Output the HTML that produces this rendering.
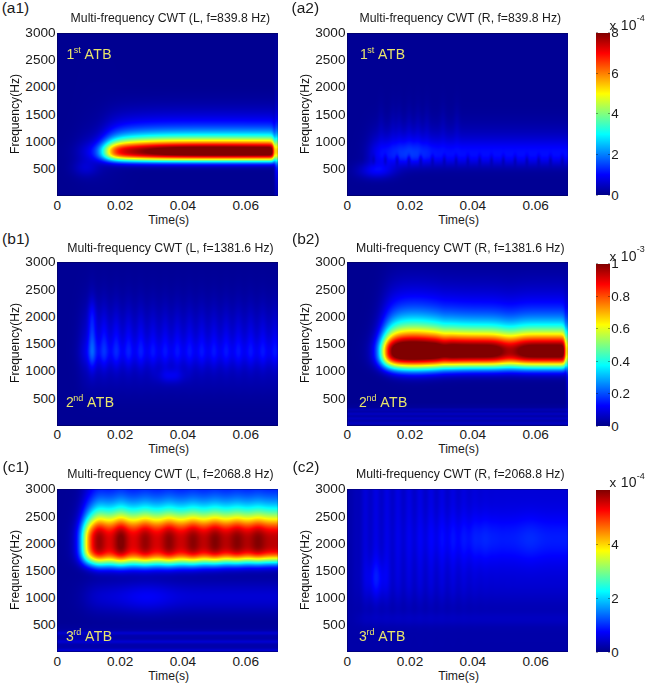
<!DOCTYPE html>
<html><head><meta charset="utf-8"><style>
html,body{margin:0;padding:0;background:#fff;}
body{width:646px;height:685px;position:relative;overflow:hidden;font-family:"Liberation Sans", sans-serif;}
.t{position:absolute;line-height:1;white-space:nowrap;color:#111;}
canvas{position:absolute;background:#00008f;display:block;}
.atb{color:#e8e46c;}
.ls{letter-spacing:0.45px;}
.sup{font-size:9px;vertical-align:top;position:relative;top:-1.3px;margin-left:-0.5px;}
.fr{position:absolute;box-sizing:border-box;border:1px solid rgba(0,0,50,0.35);border-right-color:rgba(0,0,50,0.15);}
.cb{position:absolute;background:linear-gradient(to top,#000088 0%,#0000ff 12.5%,#00ffff 37.5%,#ffff00 62.5%,#ff0000 87.5%,#800000 100%);}
.tk{position:absolute;width:2px;height:1px;background:rgba(0,0,0,0.35);}
.sup2{font-size:9px;vertical-align:top;position:relative;top:-3.6px;margin-left:0.3px;}
</style></head><body>
<canvas id="p00" width="221" height="163" style="left:57.30px;top:32.70px;width:220.80px;height:163.30px;background:linear-gradient(to right,rgb(0,0,145) 38px,rgba(0,0,145,0) 60px),linear-gradient(to bottom,rgb(0,0,145) 1px,rgb(0,0,145) 3px,rgb(0,0,145) 5px,rgb(0,0,145) 7px,rgb(0,0,145) 9px,rgb(0,0,145) 11px,rgb(0,0,145) 13px,rgb(0,0,145) 15px,rgb(0,0,145) 17px,rgb(0,0,145) 19px,rgb(0,0,145) 21px,rgb(0,0,145) 23px,rgb(0,0,145) 25px,rgb(0,0,145) 27px,rgb(0,0,145) 29px,rgb(0,0,145) 31px,rgb(0,0,145) 33px,rgb(0,0,145) 35px,rgb(0,0,145) 37px,rgb(0,0,145) 39px,rgb(0,0,145) 41px,rgb(0,0,145) 43px,rgb(0,0,145) 45px,rgb(0,0,145) 47px,rgb(0,0,146) 49px,rgb(0,0,146) 51px,rgb(0,0,146) 53px,rgb(0,0,147) 55px,rgb(0,0,148) 57px,rgb(0,0,150) 59px,rgb(0,0,152) 61px,rgb(0,0,154) 63px,rgb(0,0,157) 65px,rgb(0,0,161) 67px,rgb(0,0,165) 69px,rgb(0,0,170) 71px,rgb(0,0,176) 73px,rgb(0,0,183) 75px,rgb(0,0,191) 77px,rgb(0,0,200) 79px,rgb(0,0,211) 81px,rgb(0,0,223) 83px,rgb(0,0,238) 85px,rgb(0,0,254) 87px,rgb(0,18,255) 89px,rgb(0,41,255) 91px,rgb(0,69,255) 93px,rgb(0,101,255) 95px,rgb(0,141,255) 97px,rgb(0,189,255) 99px,rgb(0,248,255) 101px,rgb(65,255,189) 103px,rgb(153,255,102) 105px,rgb(254,253,0) 107px,rgb(255,138,0) 109px,rgb(255,16,0) 111px,rgb(160,0,0) 113px,rgb(128,0,0) 115px,rgb(128,0,0) 117px,rgb(128,0,0) 119px,rgb(128,0,0) 121px,rgb(227,0,0) 123px,rgb(255,167,0) 125px,rgb(120,255,134) 127px,rgb(0,175,255) 129px,rgb(0,30,255) 131px,rgb(0,0,202) 133px,rgb(0,0,164) 135px,rgb(0,0,150) 137px,rgb(0,0,146) 139px,rgb(0,0,145) 141px,rgb(0,0,145) 143px,rgb(0,0,145) 145px,rgb(0,0,145) 147px,rgb(0,0,145) 149px,rgb(0,0,145) 151px,rgb(0,0,145) 153px,rgb(0,0,145) 155px,rgb(0,0,145) 157px,rgb(0,0,145) 159px,rgb(0,0,145) 161px,rgb(0,0,145) 162px) 38px 0/183.8px 100% no-repeat,rgb(0,0,145);"></canvas>
<canvas id="p01" width="221" height="163" style="left:347.20px;top:32.70px;width:220.80px;height:163.30px;background:linear-gradient(to bottom,rgb(0,0,148) 1px,rgb(0,0,148) 3px,rgb(0,0,148) 5px,rgb(0,0,148) 7px,rgb(0,0,148) 9px,rgb(0,0,148) 11px,rgb(0,0,148) 13px,rgb(0,0,148) 15px,rgb(0,0,148) 17px,rgb(0,0,148) 19px,rgb(0,0,148) 21px,rgb(0,0,148) 23px,rgb(0,0,148) 25px,rgb(0,0,148) 27px,rgb(0,0,148) 29px,rgb(0,0,148) 31px,rgb(0,0,148) 33px,rgb(0,0,148) 35px,rgb(0,0,148) 37px,rgb(0,0,148) 39px,rgb(0,0,148) 41px,rgb(0,0,148) 43px,rgb(0,0,148) 45px,rgb(0,0,148) 47px,rgb(0,0,148) 49px,rgb(0,0,148) 51px,rgb(0,0,148) 53px,rgb(0,0,148) 55px,rgb(0,0,148) 57px,rgb(0,0,148) 59px,rgb(0,0,148) 61px,rgb(0,0,148) 63px,rgb(0,0,148) 65px,rgb(0,0,148) 67px,rgb(0,0,149) 69px,rgb(0,0,149) 71px,rgb(0,0,149) 73px,rgb(0,0,150) 75px,rgb(0,0,151) 77px,rgb(0,0,152) 79px,rgb(0,0,154) 81px,rgb(0,0,156) 83px,rgb(0,0,158) 85px,rgb(0,0,160) 87px,rgb(0,0,163) 89px,rgb(0,0,167) 91px,rgb(0,0,171) 93px,rgb(0,0,175) 95px,rgb(0,0,181) 97px,rgb(0,0,186) 99px,rgb(0,0,193) 101px,rgb(0,0,201) 103px,rgb(0,0,209) 105px,rgb(0,0,219) 107px,rgb(0,0,229) 109px,rgb(0,0,239) 111px,rgb(0,0,249) 113px,rgb(0,1,255) 115px,rgb(0,6,255) 117px,rgb(0,7,255) 119px,rgb(0,4,252) 121px,rgb(0,2,243) 123px,rgb(0,0,229) 125px,rgb(0,0,213) 127px,rgb(0,0,201) 129px,rgb(0,0,190) 131px,rgb(0,0,180) 133px,rgb(0,0,170) 135px,rgb(0,0,161) 137px,rgb(0,0,155) 139px,rgb(0,0,152) 141px,rgb(0,0,150) 143px,rgb(0,0,149) 145px,rgb(0,0,148) 147px,rgb(0,0,148) 149px,rgb(0,0,148) 151px,rgb(0,0,148) 153px,rgb(0,0,148) 155px,rgb(0,0,148) 157px,rgb(0,0,148) 159px,rgb(0,0,148) 161px,rgb(0,0,148) 162px);"></canvas>
<div class="cb" style="left:595.60px;top:32.50px;width:14.10px;height:162.70px"></div>
<canvas id="p10" width="221" height="164" style="left:57.30px;top:262.00px;width:220.80px;height:163.50px;background:linear-gradient(to bottom,rgb(0,0,149) 1px,rgb(0,0,149) 3px,rgb(0,0,149) 5px,rgb(0,0,150) 7px,rgb(0,0,150) 9px,rgb(0,0,150) 11px,rgb(0,0,151) 13px,rgb(0,0,152) 15px,rgb(0,0,153) 17px,rgb(0,0,154) 19px,rgb(0,0,154) 21px,rgb(0,0,155) 23px,rgb(0,0,156) 25px,rgb(0,0,158) 27px,rgb(0,0,160) 29px,rgb(0,0,161) 31px,rgb(0,0,163) 33px,rgb(0,0,165) 35px,rgb(0,0,167) 37px,rgb(0,0,169) 39px,rgb(0,0,172) 41px,rgb(0,0,174) 43px,rgb(0,0,177) 45px,rgb(0,0,180) 47px,rgb(0,0,183) 49px,rgb(0,0,186) 51px,rgb(0,0,190) 53px,rgb(0,0,193) 55px,rgb(0,0,197) 57px,rgb(0,0,200) 59px,rgb(0,0,204) 61px,rgb(0,0,207) 63px,rgb(0,0,210) 65px,rgb(0,0,214) 67px,rgb(0,0,218) 69px,rgb(0,0,222) 71px,rgb(0,0,226) 73px,rgb(0,0,231) 75px,rgb(0,0,235) 77px,rgb(0,0,241) 79px,rgb(0,2,243) 81px,rgb(0,4,245) 83px,rgb(0,6,247) 85px,rgb(0,8,249) 87px,rgb(0,8,249) 89px,rgb(0,7,249) 91px,rgb(0,5,247) 93px,rgb(0,2,244) 95px,rgb(0,0,239) 97px,rgb(0,0,230) 99px,rgb(0,0,222) 101px,rgb(0,0,215) 103px,rgb(0,0,208) 105px,rgb(0,0,204) 107px,rgb(0,0,201) 109px,rgb(0,0,199) 111px,rgb(0,0,196) 113px,rgb(0,0,192) 115px,rgb(0,0,187) 117px,rgb(0,0,181) 119px,rgb(0,0,177) 121px,rgb(0,0,172) 123px,rgb(0,0,169) 125px,rgb(0,0,166) 127px,rgb(0,0,163) 129px,rgb(0,0,161) 131px,rgb(0,0,159) 133px,rgb(0,0,157) 135px,rgb(0,0,156) 137px,rgb(0,0,154) 139px,rgb(0,0,153) 141px,rgb(0,0,152) 143px,rgb(0,0,151) 145px,rgb(0,0,150) 147px,rgb(0,0,150) 149px,rgb(0,0,149) 151px,rgb(0,0,149) 153px,rgb(0,0,148) 155px,rgb(0,0,148) 157px,rgb(0,0,148) 159px,rgb(0,0,148) 161px,rgb(0,0,148) 162px);"></canvas>
<canvas id="p11" width="221" height="164" style="left:347.20px;top:262.00px;width:220.80px;height:163.50px;background:linear-gradient(to right,rgb(0,0,147) 24px,rgba(0,0,147,0) 46px),linear-gradient(to bottom,rgb(0,0,155) 1px,rgb(0,0,157) 3px,rgb(0,0,159) 5px,rgb(0,0,162) 7px,rgb(0,0,165) 9px,rgb(0,0,168) 11px,rgb(0,0,171) 13px,rgb(0,0,175) 15px,rgb(0,0,180) 17px,rgb(0,0,184) 19px,rgb(0,0,190) 21px,rgb(0,0,195) 23px,rgb(0,0,201) 25px,rgb(0,0,208) 27px,rgb(0,0,216) 29px,rgb(0,0,224) 31px,rgb(0,0,233) 33px,rgb(0,1,241) 35px,rgb(0,5,247) 37px,rgb(0,10,254) 39px,rgb(0,22,255) 41px,rgb(0,36,255) 43px,rgb(0,52,255) 45px,rgb(0,69,255) 47px,rgb(0,88,255) 49px,rgb(0,110,255) 51px,rgb(0,134,255) 53px,rgb(0,161,255) 55px,rgb(0,190,255) 57px,rgb(6,219,248) 59px,rgb(20,243,234) 61px,rgb(51,255,203) 63px,rgb(99,255,155) 65px,rgb(152,255,102) 67px,rgb(205,247,50) 69px,rgb(247,225,7) 71px,rgb(255,164,0) 73px,rgb(255,92,0) 75px,rgb(240,34,0) 77px,rgb(205,0,0) 79px,rgb(156,0,0) 81px,rgb(128,0,0) 83px,rgb(128,0,0) 85px,rgb(128,0,0) 87px,rgb(128,0,0) 89px,rgb(128,0,0) 91px,rgb(128,0,0) 93px,rgb(141,0,0) 95px,rgb(201,0,0) 97px,rgb(251,55,0) 99px,rgb(255,175,0) 101px,rgb(196,249,58) 103px,rgb(71,255,183) 105px,rgb(4,203,250) 107px,rgb(0,107,255) 109px,rgb(0,30,255) 111px,rgb(0,2,228) 113px,rgb(0,0,193) 115px,rgb(0,0,170) 117px,rgb(0,0,157) 119px,rgb(0,0,150) 121px,rgb(0,0,147) 123px,rgb(0,0,145) 125px,rgb(0,0,145) 127px,rgb(0,0,145) 129px,rgb(0,0,145) 131px,rgb(0,0,145) 133px,rgb(0,0,145) 135px,rgb(0,0,145) 137px,rgb(0,0,145) 139px,rgb(0,0,147) 141px,rgb(0,0,151) 143px,rgb(0,0,156) 145px,rgb(0,0,178) 147px,rgb(0,0,168) 149px,rgb(0,0,188) 151px,rgb(0,0,174) 153px,rgb(0,0,183) 155px,rgb(0,0,183) 157px,rgb(0,0,175) 159px,rgb(0,0,189) 161px,rgb(0,0,189) 162px) 24px 0/197.8px 100% no-repeat,rgb(0,0,147);"></canvas>
<div class="cb" style="left:595.60px;top:263.70px;width:14.10px;height:162.40px"></div>
<canvas id="p20" width="221" height="163" style="left:57.30px;top:489.00px;width:220.80px;height:163.00px;background:linear-gradient(to right,rgb(0,0,154) 14px,rgba(0,0,154,0) 36px),linear-gradient(to bottom,rgb(0,47,255) 1px,rgb(0,62,255) 3px,rgb(0,78,255) 5px,rgb(0,97,255) 7px,rgb(0,118,255) 9px,rgb(0,141,255) 11px,rgb(0,168,255) 13px,rgb(0,198,255) 15px,rgb(0,231,255) 17px,rgb(14,253,241) 19px,rgb(53,255,202) 21px,rgb(97,255,158) 23px,rgb(144,255,110) 25px,rgb(195,255,59) 27px,rgb(241,248,14) 29px,rgb(255,208,0) 31px,rgb(255,155,0) 33px,rgb(255,104,0) 35px,rgb(255,57,0) 37px,rgb(247,24,0) 39px,rgb(230,7,0) 41px,rgb(211,0,0) 43px,rgb(192,0,0) 45px,rgb(181,0,0) 47px,rgb(175,0,0) 49px,rgb(173,0,0) 51px,rgb(173,0,0) 53px,rgb(174,0,0) 55px,rgb(178,0,0) 57px,rgb(189,0,0) 59px,rgb(213,0,0) 61px,rgb(243,7,0) 63px,rgb(255,53,0) 65px,rgb(255,129,0) 67px,rgb(255,225,0) 69px,rgb(177,255,78) 71px,rgb(63,255,192) 73px,rgb(0,208,255) 75px,rgb(0,112,255) 77px,rgb(0,34,255) 79px,rgb(0,2,231) 81px,rgb(0,0,198) 83px,rgb(0,0,178) 85px,rgb(0,0,170) 87px,rgb(0,0,170) 89px,rgb(0,0,174) 91px,rgb(0,0,180) 93px,rgb(0,0,187) 95px,rgb(0,0,195) 97px,rgb(0,0,202) 99px,rgb(0,0,209) 101px,rgb(0,0,215) 103px,rgb(0,0,220) 105px,rgb(0,0,221) 107px,rgb(0,0,221) 109px,rgb(0,0,218) 111px,rgb(0,0,213) 113px,rgb(0,0,206) 115px,rgb(0,0,199) 117px,rgb(0,0,191) 119px,rgb(0,0,183) 121px,rgb(0,0,176) 123px,rgb(0,0,170) 125px,rgb(0,0,165) 127px,rgb(0,0,160) 129px,rgb(0,0,157) 131px,rgb(0,0,155) 133px,rgb(0,0,155) 135px,rgb(0,0,156) 137px,rgb(0,0,159) 139px,rgb(0,0,169) 141px,rgb(0,0,199) 143px,rgb(0,0,189) 145px,rgb(0,0,171) 147px,rgb(0,0,171) 149px,rgb(0,0,195) 151px,rgb(0,0,200) 153px,rgb(0,0,173) 155px,rgb(0,0,170) 157px,rgb(0,0,183) 159px,rgb(0,0,206) 161px,rgb(0,0,206) 162px) 14px 0/207.8px 100% no-repeat,rgb(0,0,154);"></canvas>
<canvas id="p21" width="221" height="163" style="left:347.20px;top:489.00px;width:220.80px;height:163.00px;background:linear-gradient(to bottom,rgb(0,0,215) 1px,rgb(0,0,216) 3px,rgb(0,0,216) 5px,rgb(0,0,216) 7px,rgb(0,0,217) 9px,rgb(0,0,218) 11px,rgb(0,0,219) 13px,rgb(0,0,220) 15px,rgb(0,0,222) 17px,rgb(0,0,223) 19px,rgb(0,0,225) 21px,rgb(0,0,228) 23px,rgb(0,0,230) 25px,rgb(0,0,233) 27px,rgb(0,0,236) 29px,rgb(0,0,239) 31px,rgb(0,0,242) 33px,rgb(0,2,243) 35px,rgb(0,4,244) 37px,rgb(0,6,245) 39px,rgb(0,8,245) 41px,rgb(0,10,245) 43px,rgb(0,11,246) 45px,rgb(0,12,246) 47px,rgb(0,12,246) 49px,rgb(0,12,246) 51px,rgb(0,12,246) 53px,rgb(0,10,246) 55px,rgb(0,9,245) 57px,rgb(0,7,245) 59px,rgb(0,5,245) 61px,rgb(0,3,244) 63px,rgb(0,1,243) 65px,rgb(0,0,241) 67px,rgb(0,0,238) 69px,rgb(0,0,235) 71px,rgb(0,0,233) 73px,rgb(0,0,230) 75px,rgb(0,0,228) 77px,rgb(0,0,226) 79px,rgb(0,0,224) 81px,rgb(0,0,223) 83px,rgb(0,0,221) 85px,rgb(0,0,219) 87px,rgb(0,0,218) 89px,rgb(0,0,216) 91px,rgb(0,0,215) 93px,rgb(0,0,213) 95px,rgb(0,0,211) 97px,rgb(0,0,208) 99px,rgb(0,0,206) 101px,rgb(0,0,203) 103px,rgb(0,0,200) 105px,rgb(0,0,197) 107px,rgb(0,0,193) 109px,rgb(0,0,190) 111px,rgb(0,0,187) 113px,rgb(0,0,185) 115px,rgb(0,0,183) 117px,rgb(0,0,182) 119px,rgb(0,0,182) 121px,rgb(0,0,184) 123px,rgb(0,0,188) 125px,rgb(0,0,191) 127px,rgb(0,0,192) 129px,rgb(0,0,190) 131px,rgb(0,0,186) 133px,rgb(0,0,181) 135px,rgb(0,0,176) 137px,rgb(0,0,173) 139px,rgb(0,0,170) 141px,rgb(10,10,166) 143px,rgb(0,0,169) 145px,rgb(0,0,169) 147px,rgb(0,0,169) 149px,rgb(20,19,163) 151px,rgb(0,0,168) 153px,rgb(0,0,168) 155px,rgb(0,0,168) 157px,rgb(0,0,168) 159px,rgb(0,0,168) 161px,rgb(0,0,168) 162px);"></canvas>
<div class="cb" style="left:595.60px;top:489.80px;width:14.10px;height:162.30px"></div>
<div class="t" style="left:1.70px;top:-0.12px;font-size:15.5px;color:#1a1a1a;">(a1)</div>
<div class="t" style="left:-29.60px;width:400px;text-align:center;top:12.43px;font-size:12.25px;color:#1a1a1a;">Multi-frequency CWT (L, f=839.8 Hz)</div>
<div class="t" style="right:590.40px;text-align:right;top:26.04px;font-size:13.6px;color:#1a1a1a;">3000</div>
<div class="t" style="right:590.40px;text-align:right;top:53.25px;font-size:13.6px;color:#1a1a1a;">2500</div>
<div class="t" style="right:590.40px;text-align:right;top:80.47px;font-size:13.6px;color:#1a1a1a;">2000</div>
<div class="t" style="right:590.40px;text-align:right;top:107.69px;font-size:13.6px;color:#1a1a1a;">1500</div>
<div class="t" style="right:590.40px;text-align:right;top:134.90px;font-size:13.6px;color:#1a1a1a;">1000</div>
<div class="t" style="right:590.40px;text-align:right;top:162.12px;font-size:13.6px;color:#1a1a1a;">500</div>
<div class="t" style="left:-142.70px;width:400px;text-align:center;top:198.79px;font-size:13.6px;color:#1a1a1a;">0</div>
<div class="t" style="left:-79.88px;width:400px;text-align:center;top:198.79px;font-size:13.6px;color:#1a1a1a;">0.02</div>
<div class="t" style="left:-17.07px;width:400px;text-align:center;top:198.79px;font-size:13.6px;color:#1a1a1a;">0.04</div>
<div class="t" style="left:45.75px;width:400px;text-align:center;top:198.79px;font-size:13.6px;color:#1a1a1a;">0.06</div>
<div class="t" style="left:-31.30px;width:400px;text-align:center;top:213.97px;font-size:12.2px;color:#1a1a1a;">Time(s)</div>
<div class="t" style="left:9.06px;top:113.65px;font-size:12.1px;width:0;height:0;"><div style="position:absolute;left:0;top:0;transform:translate(0,0) rotate(-90deg);transform-origin:0 0;white-space:nowrap;"><div style="transform:translate(-50%,0)">Frequency(Hz)</div></div></div>
<div class="t atb" style="left:66.40px;top:46.85px;font-size:14px;">1<span class="sup">st</span> <span class="ls">ATB</span></div>
<div class="fr" style="left:57.30px;top:32.70px;width:220.80px;height:163.30px"></div>
<div class="t" style="left:291.50px;top:-0.12px;font-size:15.5px;color:#1a1a1a;">(a2)</div>
<div class="t" style="left:260.30px;width:400px;text-align:center;top:12.43px;font-size:12.25px;color:#1a1a1a;">Multi-frequency CWT (R, f=839.8 Hz)</div>
<div class="t" style="right:300.50px;text-align:right;top:26.04px;font-size:13.6px;color:#1a1a1a;">3000</div>
<div class="t" style="right:300.50px;text-align:right;top:53.25px;font-size:13.6px;color:#1a1a1a;">2500</div>
<div class="t" style="right:300.50px;text-align:right;top:80.47px;font-size:13.6px;color:#1a1a1a;">2000</div>
<div class="t" style="right:300.50px;text-align:right;top:107.69px;font-size:13.6px;color:#1a1a1a;">1500</div>
<div class="t" style="right:300.50px;text-align:right;top:134.90px;font-size:13.6px;color:#1a1a1a;">1000</div>
<div class="t" style="right:300.50px;text-align:right;top:162.12px;font-size:13.6px;color:#1a1a1a;">500</div>
<div class="t" style="left:147.20px;width:400px;text-align:center;top:198.79px;font-size:13.6px;color:#1a1a1a;">0</div>
<div class="t" style="left:210.02px;width:400px;text-align:center;top:198.79px;font-size:13.6px;color:#1a1a1a;">0.02</div>
<div class="t" style="left:272.83px;width:400px;text-align:center;top:198.79px;font-size:13.6px;color:#1a1a1a;">0.04</div>
<div class="t" style="left:335.65px;width:400px;text-align:center;top:198.79px;font-size:13.6px;color:#1a1a1a;">0.06</div>
<div class="t" style="left:258.60px;width:400px;text-align:center;top:213.97px;font-size:12.2px;color:#1a1a1a;">Time(s)</div>
<div class="t" style="left:298.96px;top:113.65px;font-size:12.1px;width:0;height:0;"><div style="position:absolute;left:0;top:0;transform:translate(0,0) rotate(-90deg);transform-origin:0 0;white-space:nowrap;"><div style="transform:translate(-50%,0)">Frequency(Hz)</div></div></div>
<div class="t atb" style="left:359.90px;top:46.85px;font-size:14px;">1<span class="sup">st</span> <span class="ls">ATB</span></div>
<div class="fr" style="left:347.20px;top:32.70px;width:220.80px;height:163.30px"></div>
<div class="t" style="left:611.30px;top:188.61px;font-size:13.4px;color:#1a1a1a;">0</div>
<div class="tk" style="left:595.60px;top:194.70px"></div><div class="tk" style="left:607.70px;top:194.70px"></div>
<div class="t" style="left:611.30px;top:147.93px;font-size:13.4px;color:#1a1a1a;">2</div>
<div class="tk" style="left:595.60px;top:154.02px"></div><div class="tk" style="left:607.70px;top:154.02px"></div>
<div class="t" style="left:611.30px;top:107.26px;font-size:13.4px;color:#1a1a1a;">4</div>
<div class="tk" style="left:595.60px;top:113.35px"></div><div class="tk" style="left:607.70px;top:113.35px"></div>
<div class="t" style="left:611.30px;top:66.58px;font-size:13.4px;color:#1a1a1a;">6</div>
<div class="tk" style="left:595.60px;top:72.67px"></div><div class="tk" style="left:607.70px;top:72.67px"></div>
<div class="t" style="left:611.30px;top:25.91px;font-size:13.4px;color:#1a1a1a;">8</div>
<div class="tk" style="left:595.60px;top:32.00px"></div><div class="tk" style="left:607.70px;top:32.00px"></div>
<div class="t" style="left:609.40px;top:17.75px;font-size:14px;color:#1a1a1a;"><span style="font-size:13.4px;margin-right:0.9px">x</span> 10<span class="sup2">-4</span></div>
<div class="t" style="left:2.10px;top:231.08px;font-size:15.5px;color:#1a1a1a;">(b1)</div>
<div class="t" style="left:-29.60px;width:400px;text-align:center;top:242.23px;font-size:12.25px;color:#1a1a1a;">Multi-frequency CWT (L, f=1381.6 Hz)</div>
<div class="t" style="right:590.40px;text-align:right;top:255.34px;font-size:13.6px;color:#1a1a1a;">3000</div>
<div class="t" style="right:590.40px;text-align:right;top:282.59px;font-size:13.6px;color:#1a1a1a;">2500</div>
<div class="t" style="right:590.40px;text-align:right;top:309.84px;font-size:13.6px;color:#1a1a1a;">2000</div>
<div class="t" style="right:590.40px;text-align:right;top:337.09px;font-size:13.6px;color:#1a1a1a;">1500</div>
<div class="t" style="right:590.40px;text-align:right;top:364.34px;font-size:13.6px;color:#1a1a1a;">1000</div>
<div class="t" style="right:590.40px;text-align:right;top:391.59px;font-size:13.6px;color:#1a1a1a;">500</div>
<div class="t" style="left:-142.70px;width:400px;text-align:center;top:428.29px;font-size:13.6px;color:#1a1a1a;">0</div>
<div class="t" style="left:-79.88px;width:400px;text-align:center;top:428.29px;font-size:13.6px;color:#1a1a1a;">0.02</div>
<div class="t" style="left:-17.07px;width:400px;text-align:center;top:428.29px;font-size:13.6px;color:#1a1a1a;">0.04</div>
<div class="t" style="left:45.75px;width:400px;text-align:center;top:428.29px;font-size:13.6px;color:#1a1a1a;">0.06</div>
<div class="t" style="left:-31.30px;width:400px;text-align:center;top:443.47px;font-size:12.2px;color:#1a1a1a;">Time(s)</div>
<div class="t" style="left:9.06px;top:343.05px;font-size:12.1px;width:0;height:0;"><div style="position:absolute;left:0;top:0;transform:translate(0,0) rotate(-90deg);transform-origin:0 0;white-space:nowrap;"><div style="transform:translate(-50%,0)">Frequency(Hz)</div></div></div>
<div class="t atb" style="left:65.90px;top:394.95px;font-size:14px;">2<span class="sup">nd</span> <span class="ls">ATB</span></div>
<div class="fr" style="left:57.30px;top:262.00px;width:220.80px;height:163.50px"></div>
<div class="t" style="left:292.00px;top:231.08px;font-size:15.5px;color:#1a1a1a;">(b2)</div>
<div class="t" style="left:260.30px;width:400px;text-align:center;top:242.23px;font-size:12.25px;color:#1a1a1a;">Multi-frequency CWT (R, f=1381.6 Hz)</div>
<div class="t" style="right:300.50px;text-align:right;top:255.34px;font-size:13.6px;color:#1a1a1a;">3000</div>
<div class="t" style="right:300.50px;text-align:right;top:282.59px;font-size:13.6px;color:#1a1a1a;">2500</div>
<div class="t" style="right:300.50px;text-align:right;top:309.84px;font-size:13.6px;color:#1a1a1a;">2000</div>
<div class="t" style="right:300.50px;text-align:right;top:337.09px;font-size:13.6px;color:#1a1a1a;">1500</div>
<div class="t" style="right:300.50px;text-align:right;top:364.34px;font-size:13.6px;color:#1a1a1a;">1000</div>
<div class="t" style="right:300.50px;text-align:right;top:391.59px;font-size:13.6px;color:#1a1a1a;">500</div>
<div class="t" style="left:147.20px;width:400px;text-align:center;top:428.29px;font-size:13.6px;color:#1a1a1a;">0</div>
<div class="t" style="left:210.02px;width:400px;text-align:center;top:428.29px;font-size:13.6px;color:#1a1a1a;">0.02</div>
<div class="t" style="left:272.83px;width:400px;text-align:center;top:428.29px;font-size:13.6px;color:#1a1a1a;">0.04</div>
<div class="t" style="left:335.65px;width:400px;text-align:center;top:428.29px;font-size:13.6px;color:#1a1a1a;">0.06</div>
<div class="t" style="left:258.60px;width:400px;text-align:center;top:443.47px;font-size:12.2px;color:#1a1a1a;">Time(s)</div>
<div class="t" style="left:298.96px;top:343.05px;font-size:12.1px;width:0;height:0;"><div style="position:absolute;left:0;top:0;transform:translate(0,0) rotate(-90deg);transform-origin:0 0;white-space:nowrap;"><div style="transform:translate(-50%,0)">Frequency(Hz)</div></div></div>
<div class="t atb" style="left:359.10px;top:394.95px;font-size:14px;">2<span class="sup">nd</span> <span class="ls">ATB</span></div>
<div class="fr" style="left:347.20px;top:262.00px;width:220.80px;height:163.50px"></div>
<div class="t" style="left:611.30px;top:419.51px;font-size:13.4px;color:#1a1a1a;">0</div>
<div class="tk" style="left:595.60px;top:425.60px"></div><div class="tk" style="left:607.70px;top:425.60px"></div>
<div class="t" style="left:611.30px;top:387.03px;font-size:13.4px;color:#1a1a1a;">0.2</div>
<div class="tk" style="left:595.60px;top:393.12px"></div><div class="tk" style="left:607.70px;top:393.12px"></div>
<div class="t" style="left:611.30px;top:354.55px;font-size:13.4px;color:#1a1a1a;">0.4</div>
<div class="tk" style="left:595.60px;top:360.64px"></div><div class="tk" style="left:607.70px;top:360.64px"></div>
<div class="t" style="left:611.30px;top:322.07px;font-size:13.4px;color:#1a1a1a;">0.6</div>
<div class="tk" style="left:595.60px;top:328.16px"></div><div class="tk" style="left:607.70px;top:328.16px"></div>
<div class="t" style="left:611.30px;top:289.59px;font-size:13.4px;color:#1a1a1a;">0.8</div>
<div class="tk" style="left:595.60px;top:295.68px"></div><div class="tk" style="left:607.70px;top:295.68px"></div>
<div class="t" style="left:611.30px;top:257.11px;font-size:13.4px;color:#1a1a1a;">1</div>
<div class="tk" style="left:595.60px;top:263.20px"></div><div class="tk" style="left:607.70px;top:263.20px"></div>
<div class="t" style="left:609.40px;top:248.75px;font-size:14px;color:#1a1a1a;"><span style="font-size:13.4px;margin-right:0.9px">x</span> 10<span class="sup2">-3</span></div>
<div class="t" style="left:2.50px;top:458.68px;font-size:15.5px;color:#1a1a1a;">(c1)</div>
<div class="t" style="left:-29.60px;width:400px;text-align:center;top:468.03px;font-size:12.25px;color:#1a1a1a;">Multi-frequency CWT (L, f=2068.8 Hz)</div>
<div class="t" style="right:590.40px;text-align:right;top:482.34px;font-size:13.6px;color:#1a1a1a;">3000</div>
<div class="t" style="right:590.40px;text-align:right;top:509.50px;font-size:13.6px;color:#1a1a1a;">2500</div>
<div class="t" style="right:590.40px;text-align:right;top:536.67px;font-size:13.6px;color:#1a1a1a;">2000</div>
<div class="t" style="right:590.40px;text-align:right;top:563.84px;font-size:13.6px;color:#1a1a1a;">1500</div>
<div class="t" style="right:590.40px;text-align:right;top:591.00px;font-size:13.6px;color:#1a1a1a;">1000</div>
<div class="t" style="right:590.40px;text-align:right;top:618.17px;font-size:13.6px;color:#1a1a1a;">500</div>
<div class="t" style="left:-142.70px;width:400px;text-align:center;top:654.79px;font-size:13.6px;color:#1a1a1a;">0</div>
<div class="t" style="left:-79.88px;width:400px;text-align:center;top:654.79px;font-size:13.6px;color:#1a1a1a;">0.02</div>
<div class="t" style="left:-17.07px;width:400px;text-align:center;top:654.79px;font-size:13.6px;color:#1a1a1a;">0.04</div>
<div class="t" style="left:45.75px;width:400px;text-align:center;top:654.79px;font-size:13.6px;color:#1a1a1a;">0.06</div>
<div class="t" style="left:-31.30px;width:400px;text-align:center;top:669.97px;font-size:12.2px;color:#1a1a1a;">Time(s)</div>
<div class="t" style="left:9.06px;top:569.80px;font-size:12.1px;width:0;height:0;"><div style="position:absolute;left:0;top:0;transform:translate(0,0) rotate(-90deg);transform-origin:0 0;white-space:nowrap;"><div style="transform:translate(-50%,0)">Frequency(Hz)</div></div></div>
<div class="t atb" style="left:65.90px;top:629.45px;font-size:14px;">3<span class="sup">rd</span> <span class="ls">ATB</span></div>
<div class="fr" style="left:57.30px;top:489.00px;width:220.80px;height:163.00px"></div>
<div class="t" style="left:292.60px;top:458.68px;font-size:15.5px;color:#1a1a1a;">(c2)</div>
<div class="t" style="left:260.30px;width:400px;text-align:center;top:468.03px;font-size:12.25px;color:#1a1a1a;">Multi-frequency CWT (R, f=2068.8 Hz)</div>
<div class="t" style="right:300.50px;text-align:right;top:482.34px;font-size:13.6px;color:#1a1a1a;">3000</div>
<div class="t" style="right:300.50px;text-align:right;top:509.50px;font-size:13.6px;color:#1a1a1a;">2500</div>
<div class="t" style="right:300.50px;text-align:right;top:536.67px;font-size:13.6px;color:#1a1a1a;">2000</div>
<div class="t" style="right:300.50px;text-align:right;top:563.84px;font-size:13.6px;color:#1a1a1a;">1500</div>
<div class="t" style="right:300.50px;text-align:right;top:591.00px;font-size:13.6px;color:#1a1a1a;">1000</div>
<div class="t" style="right:300.50px;text-align:right;top:618.17px;font-size:13.6px;color:#1a1a1a;">500</div>
<div class="t" style="left:147.20px;width:400px;text-align:center;top:654.79px;font-size:13.6px;color:#1a1a1a;">0</div>
<div class="t" style="left:210.02px;width:400px;text-align:center;top:654.79px;font-size:13.6px;color:#1a1a1a;">0.02</div>
<div class="t" style="left:272.83px;width:400px;text-align:center;top:654.79px;font-size:13.6px;color:#1a1a1a;">0.04</div>
<div class="t" style="left:335.65px;width:400px;text-align:center;top:654.79px;font-size:13.6px;color:#1a1a1a;">0.06</div>
<div class="t" style="left:258.60px;width:400px;text-align:center;top:669.97px;font-size:12.2px;color:#1a1a1a;">Time(s)</div>
<div class="t" style="left:298.96px;top:569.80px;font-size:12.1px;width:0;height:0;"><div style="position:absolute;left:0;top:0;transform:translate(0,0) rotate(-90deg);transform-origin:0 0;white-space:nowrap;"><div style="transform:translate(-50%,0)">Frequency(Hz)</div></div></div>
<div class="t atb" style="left:359.10px;top:629.45px;font-size:14px;">3<span class="sup">rd</span> <span class="ls">ATB</span></div>
<div class="fr" style="left:347.20px;top:489.00px;width:220.80px;height:163.00px"></div>
<div class="t" style="left:611.30px;top:645.51px;font-size:13.4px;color:#1a1a1a;">0</div>
<div class="tk" style="left:595.60px;top:651.60px"></div><div class="tk" style="left:607.70px;top:651.60px"></div>
<div class="t" style="left:611.30px;top:591.68px;font-size:13.4px;color:#1a1a1a;">2</div>
<div class="tk" style="left:595.60px;top:597.77px"></div><div class="tk" style="left:607.70px;top:597.77px"></div>
<div class="t" style="left:611.30px;top:537.85px;font-size:13.4px;color:#1a1a1a;">4</div>
<div class="tk" style="left:595.60px;top:543.94px"></div><div class="tk" style="left:607.70px;top:543.94px"></div>
<div class="t" style="left:609.40px;top:475.35px;font-size:14px;color:#1a1a1a;"><span style="font-size:13.4px;margin-right:0.9px">x</span> 10<span class="sup2">-4</span></div>
<script>
(function(){
function cl(v){return v<0?0:(v>1?1:v);}
function jet(v){v=cl(v);return [cl(1.5-Math.abs(4*v-3))*255,cl(1.5-Math.abs(4*v-2))*255,cl(1.5-Math.abs(4*v-1))*255];}
function sig(x){return 1/(1+Math.exp(-x));}
function G(x,s){return Math.exp(-x*x/(2*s*s));}
function L(x,w){return 1/(1+(x/w)*(x/w));}
function P(d,wu,qu,al,pl){return d<0?1/(1+Math.pow(-d/wu,qu)):Math.exp(-Math.pow(d/al,pl));}
function paint(id,fn){
 var c=document.getElementById(id);if(!c||!c.getContext)return;
 var W=c.width,H=c.height,ctx=c.getContext('2d'),im=ctx.createImageData(W,H),d=im.data;
 for(var y=0;y<H;y++)for(var x=0;x<W;x++){
  var col=jet(fn(x+0.5,y+0.5,W,H)),i=(y*W+x)*4;
  d[i]=col[0];d[i+1]=col[1];d[i+2]=col[2];d[i+3]=255;}
 ctx.putImageData(im,0,0);
}
/* a1 */
paint('p00',function(x,y){
 var d=y-118.2, q=1-sig((x-58)/8), s=d<0?1-0.22*q:1-0.08*q;
 var A=1.05*(0.8*sig((x-49)/5.5)+0.2*sig((x-80)/15))*(1+0.02*G(x-150,45));
 var end=1-0.6*sig((x-216.8)/0.9);
 var v=0.017+A*end*P(d/s,12.2,2.2,10.1,2.6)*(d<0?Math.exp(-Math.pow(d/50,4)):1);
 v+=0.06*sig((x-22)/5)*(1-sig((x-60)/8))*L(d,12);
 v+=0.05*G(x-28.5,9)*G(y-135,6);
 v+=0.22*sig((x-218)/0.7)*L(d,22);
 return v;
});
/* a2 */
paint('p01',function(x,y){
 var d=y-120.5;
 var A=0.115*sig((x-24)/4)*(1+0.4*G(x-63,13));
 var mod=1-0.5*Math.pow(Math.cos(Math.PI*(x-38.3)/11.8),8)*G(d-7.5,4);
 var v=0.02+A*mod*P(d,16,2.2,12,2.2)*(d<0?Math.exp(-Math.pow(d/40,4)):1);
 v+=0.1*G((x-30)/1.8,7)*G(y-137.5,5.5);
 var st=0,xs=[34,46,52,62,71,80,96,110];
 for(var k=0;k<xs.length;k++){st+=G(x-xs[k],2.2);}
 v+=0.015*st*G(y-92,16)*sig((x-25)/4);
 return v;
});
/* b1 */
paint('p10',function(x,y){
 var v=0.02,s=0;
 for(var k=0;k<16;k++){var xk=35+12.2*k;s+=G(x-xk,2.8)*(k==0?2.0:(k<5?1.0:0.8));}
 var env=y<88?Math.exp(-Math.pow((y-88)/42,2)):Math.exp(-Math.pow((y-88)/20,2));
 var on=sig((x-24)/3);
 v+=on*env*(0.06+0.045*s)*(1+0.25*G(x-40,15));
 v+=0.025*on*G(y-90,9)+0.02*on*G(y-118,14);
 v+=0.06*G(x-114,9)*G(y-114,5);
 v+=0.03*on*G(y-52,10)*G(x-35,3);
 return v;
});
/* b2 */
paint('p11',function(x,y){
 var d=y-89;
 var A=1.05*sig((x-36)/4.3)*(1+0.07*G(x-62,22)-0.1*G(x-163,8.5)-0.03*G(x-97,4));
 var end=1-0.6*sig((x-218.3)/0.9);
 var w=1+0.12*G(x-68,22);
 var q=1-sig((x-42)/5);
 var dd=d<0?d/(w*(1-0.2*q)):d/((1+0.08*G(x-68,22))*(1-0.08*q));
 var v=0.017+A*end*P(dd,19.8,2.2,16.6,2.6)*(d<0?Math.exp(-Math.pow(d/80,4)):1);
 v+=0.2*sig((x-219.5)/0.6)*L(d,28);
 var b=sig((y-146)/1.5);
 v+=b*(0.025+0.02*Math.pow(Math.cos(Math.PI*(y-147.3)/4.6),2));
 return v;
});
/* c1 */
paint('p20',function(x,y){
 var d=y-52.5;
 var bl=[41.5,63.8,88.2,112,136,158,180,201], ba=[0.1,0.12,0.08,0.08,0.07,0.07,0.06,0.06];
 var m=0.86+0.06*sig((x-120)/30);
 for(var k=0;k<bl.length;k++){m+=ba[k]*G(x-bl[k],5.2);}
 var A=sig((x-26.5)/3.6)*m;
 var q=1-sig((x-33)/5), s=d<0?1-0.25*q:1-0.1*q;
 var dd=d/s;
 var pr=P(dd,28.2,2.8,23.6-2.5*sig((x-150)/25),3.5);
 var v=0.022+A*pr;
 v+=0.06*sig((x-30)/6)*G(y-108,11)*(1+0.6*G(x-90,18));
 v+=sig((y-140)/1.5)*(0.02+0.035*Math.pow(Math.cos(Math.PI*(y-144)/8.7),4));
 return v;
});
/* c2 */
paint('p21',function(x,y){
 var on=sig((x-12)/4);
 var v=0.04+on*0.045*sig((110-y)/8);
 v+=0.065*sig((x-90)/20)*Math.exp(-Math.pow((y-50)/24,2))*(1+0.25*G(x-136,8)+0.25*G(x-183,8));
 var s=0;
 for(var k=0;k<12;k++){s+=Math.cos(2*Math.PI*(x-20)/11)*0.5+0.5;}
 s=Math.cos(2*Math.PI*(x-18)/11);
 v+=0.012*s*on*(1-sig((x-120)/10))*sig((110-y)/10);
 v+=0.06*G(x-29.6,7)*G(y-90,14);
 v+=0.02*G(y-130,5)*on;
 return v;
});
})();

</script>
</body></html>
